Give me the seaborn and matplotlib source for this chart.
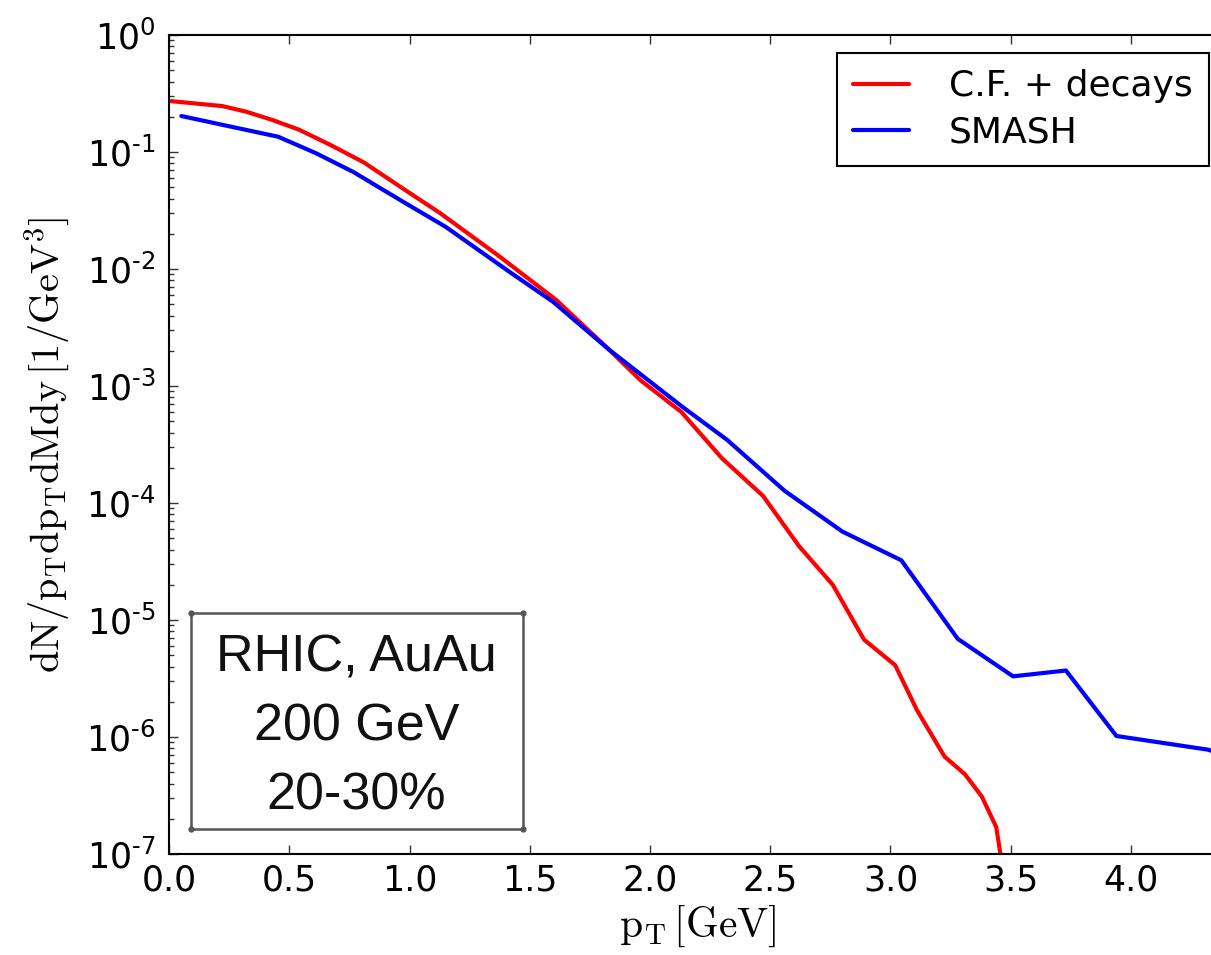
import numpy as np
import pandas as pd
import matplotlib
matplotlib.use("Agg")
import matplotlib.pyplot as plt
import seaborn as sns
from matplotlib.patches import Rectangle
from matplotlib.ticker import FixedLocator, FuncFormatter, LogLocator, NullFormatter

# ---------------- data ----------------
cf_pt = [0.0, 0.22, 0.32, 0.43, 0.54, 0.67, 0.81, 0.97, 1.125, 1.375, 1.61, 1.83,
         1.96, 2.13, 2.30, 2.47, 2.62, 2.76, 2.89, 3.02, 3.11, 3.225, 3.31, 3.38,
         3.44, 3.48]
cf_val = [0.273, 0.247, 0.221, 0.1875, 0.155, 0.115, 0.0813, 0.049, 0.0302, 0.01274,
          5.43e-3, 2.04e-3, 1.12e-3, 6.0e-4, 2.4e-4, 1.15e-4, 4.27e-5, 2.0e-5,
          6.8e-6, 4.1e-6, 1.7e-6, 6.8e-7, 4.8e-7, 3.1e-7, 1.7e-7, 5e-8]

smash_pt = [0.05, 0.453, 0.61, 0.765, 0.96, 1.15, 1.42, 1.596, 1.83, 2.136, 2.32,
            2.56, 2.80, 3.045, 3.28, 3.51, 3.73, 3.94, 4.32, 4.40]
smash_val = [0.203, 0.135, 0.0977, 0.0676, 0.0389, 0.0229, 9.3e-3, 5.25e-3, 2.04e-3,
             6.6e-4, 3.47e-4, 1.27e-4, 5.7e-5, 3.24e-5, 6.9e-6, 3.3e-6,
             3.7e-6, 1.02e-6, 7.8e-7, 6.9e-7]

series_names = ["C.F. + decays", "SMASH"]
series_colors = ["#ff0000", "#0000ff"]
x_ticks = [0.0, 0.5, 1.0, 1.5, 2.0, 2.5, 3.0, 3.5, 4.0]
y_decades = [-7, -6, -5, -4, -3, -2, -1, 0]
info_lines = ["RHIC, AuAu", "200 GeV", "20-30%"]
x_label = r"$\mathrm{p_T\,[GeV]}$"
y_label = r"$\mathrm{dN/p_Tdp_TdMdy\,[1/GeV^3]}$"

# ---------------- style ----------------
sns.set_style("ticks")
plt.rcParams.update({
    "font.family": ["DejaVu Sans"],
    "mathtext.fontset": "cm",
    "mathtext.default": "regular",
    "axes.unicode_minus": False,
    "axes.linewidth": 1.5,
    "axes.edgecolor": "black",
    "text.color": "black",
    "axes.labelcolor": "black",
})

df = pd.concat([
    pd.DataFrame({"pt": cf_pt, "val": cf_val, "series": series_names[0]}),
    pd.DataFrame({"pt": smash_pt, "val": smash_val, "series": series_names[1]}),
], ignore_index=True)

W, H = 1211, 955
fig = plt.figure(figsize=(W / 100, H / 100), dpi=100)
ax_left, ax_right, ax_top, ax_bottom = 169.3, 1227.0, 35.0, 854.0
ax = fig.add_axes([ax_left / W, (H - ax_bottom) / H,
                   (ax_right - ax_left) / W, (ax_bottom - ax_top) / H])

sns.lineplot(data=df, x="pt", y="val", hue="series", hue_order=series_names,
             palette=dict(zip(series_names, series_colors)), sort=False,
             estimator=None, linewidth=3, ax=ax)

ax.set_yscale("log")
ax.set_xlim(0, 4.4)
ax.set_ylim(1e-7, 1)

ax.xaxis.set_major_locator(FixedLocator(x_ticks))
ax.xaxis.set_major_formatter(FuncFormatter(lambda v, p: f"{v:.1f}"))
ax.yaxis.set_major_locator(FixedLocator([10.0 ** d for d in y_decades]))
ax.yaxis.set_major_formatter(
    FuncFormatter(lambda v, p: r"$\mathregular{10^{%s}}$" % str(int(round(np.log10(v)))).replace("-", "\u2010")))
ax.yaxis.set_minor_locator(LogLocator(base=10, subs=np.arange(2, 10), numticks=100))
ax.yaxis.set_minor_formatter(NullFormatter())

ax.tick_params(which="both", direction="in", top=True, right=True, colors="#333333",
               labelcolor="black")
ax.tick_params(which="major", length=6.5, width=1.0, labelsize=25)
ax.tick_params(axis="x", which="major", pad=7)
ax.tick_params(axis="y", which="major", pad=10)
ax.tick_params(which="minor", length=3.6, width=1.0)

ax.set_xlabel(x_label, fontsize=30, labelpad=4)
ax.set_ylabel(y_label, fontsize=29, labelpad=10)

handles, labels = ax.get_legend_handles_labels()
leg = ax.legend(handles, labels, loc="upper right", fontsize=26, frameon=True,
                fancybox=False, framealpha=1, edgecolor="black",
                handlelength=1.55, handletextpad=1.1, borderpad=0.45,
                labelspacing=0.35, borderaxespad=0.5)
leg.get_frame().set_linewidth(1.5)
for lh in leg.get_lines():
    lh.set_linewidth(3)

# info box
bx0, bx1, by0, by1 = 0.0202, 0.3341, 0.0302, 0.2946
ax.add_patch(Rectangle((bx0, by0), bx1 - bx0, by1 - by0, transform=ax.transAxes,
                       fill=False, edgecolor="#555555", linewidth=1.8, zorder=5))
ax.plot([bx0, bx1, bx1, bx0], [by0, by0, by1, by1], "o", ms=3.5, color="#555555",
        transform=ax.transAxes, clip_on=False, zorder=6)
ax.text((bx0 + bx1) / 2, 0.155, "\n".join(info_lines), transform=ax.transAxes,
        ha="center", va="center", fontsize=37.5, linespacing=1.52,
        family=["Liberation Sans", "DejaVu Sans"], color="#111111")

fig.savefig("out.png", dpi=100)
